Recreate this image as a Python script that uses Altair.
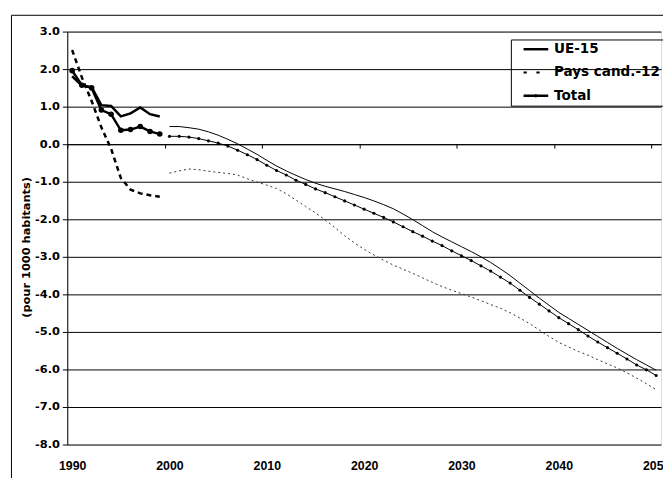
import altair as alt
import pandas as pd

# ---------------- data ----------------
series_names = ["UE-15", "Pays cand.-12", "Total"]

years_hist = list(range(1990, 2000))
ue15_hist = [1.81, 1.56, 1.52, 1.04, 1.02, 0.74, 0.82, 0.98, 0.80, 0.74]
pays_hist = [2.51, 1.78, 1.15, 0.45, -0.12, -0.90, -1.21, -1.31, -1.36, -1.40]
total_hist = [1.96, 1.57, 1.50, 0.91, 0.80, 0.37, 0.39, 0.47, 0.34, 0.27]

years_proj = list(range(2000, 2051))
ue15_proj = [0.47, 0.47, 0.44, 0.40, 0.33, 0.24, 0.13, 0.01, -0.13, -0.27,
             -0.43, -0.58, -0.71, -0.83, -0.94, -1.04, -1.12, -1.19, -1.26, -1.34,
             -1.42, -1.51, -1.61, -1.72, -1.86, -2.01, -2.17, -2.33, -2.47, -2.60,
             -2.73, -2.86, -3.00, -3.15, -3.32, -3.50, -3.70, -3.90, -4.10, -4.29,
             -4.48, -4.64, -4.80, -4.96, -5.12, -5.28, -5.44, -5.59, -5.74, -5.88,
             -6.02]
pays_proj = [-0.77, -0.71, -0.66, -0.68, -0.72, -0.75, -0.78, -0.82, -0.92, -1.01,
             -1.09, -1.18, -1.32, -1.49, -1.66, -1.83, -2.02, -2.22, -2.44, -2.63,
             -2.80, -2.95, -3.09, -3.22, -3.33, -3.44, -3.56, -3.68, -3.79, -3.89,
             -3.98, -4.07, -4.17, -4.27, -4.37, -4.49, -4.63, -4.78, -4.95, -5.12,
             -5.28, -5.40, -5.52, -5.62, -5.74, -5.85, -5.96, -6.09, -6.23, -6.38,
             -6.54]
total_proj = [0.21, 0.21, 0.19, 0.15, 0.09, 0.03, -0.05, -0.16, -0.28, -0.41,
              -0.56, -0.70, -0.82, -0.96, -1.07, -1.19, -1.29, -1.40, -1.51, -1.62,
              -1.73, -1.84, -1.95, -2.07, -2.20, -2.33, -2.45, -2.58, -2.70, -2.84,
              -2.97, -3.10, -3.24, -3.38, -3.54, -3.70, -3.89, -4.08, -4.26, -4.44,
              -4.62, -4.78, -4.94, -5.11, -5.27, -5.42, -5.57, -5.72, -5.88, -6.01,
              -6.16]

label_years = [1990, 2000, 2010, 2020, 2030, 2040, 2050]
y_ticks = [-8, -7, -6, -5, -4, -3, -2, -1, 0, 1, 2, 3]

# legend symbols: line samples drawn as filled SVG paths
legend_paths = [
    "M0.6,-0.25L5.6,-0.25L5.6,0.25L0.6,0.25Z",
    "M0.6,-0.2L1.25,-0.2L1.25,0.2L0.6,0.2Z"
    "M3.2,-0.2L3.86,-0.2L3.86,0.2L3.2,0.2Z",
    "M0.6,-0.25L5.6,-0.25L5.6,0.25L0.6,0.25Z"
    "M2.75,0A0.35,0.35 0 1 1 3.45,0A0.35,0.35 0 1 1 2.75,0Z",
]

# ---------------- helpers ----------------
FONT_A = "Liberation Sans"
FONT_B = "DejaVu Sans"
X_DOMAIN = [1989.5, 2050.5]
Y_DOMAIN = [-8, 3]
zero_ticks = [1989.5 + 10 * k for k in range(7)]


def frame(years, values):
    return pd.DataFrame({"year": years, "value": values})


y_axis = alt.Axis(
    values=y_ticks,
    labelExpr="(datum.value < 0 ? '-' : '') + format(abs(datum.value), '.1f')",
    labelFont=FONT_B, labelFontSize=11.5, labelFontWeight="bold", labelColor="black",
    labelPadding=3, tickSize=5, tickColor="black", domainColor="black",
    grid=True, gridColor="black", gridOpacity=1, gridWidth=1,
    title="(pour 1000 habitants)", titleFont=FONT_B, titleFontSize=11.5,
    titleFontWeight="bold", titleColor="black", titleX=-36, titleY=218,
)

label_axis = alt.Axis(
    orient="bottom", values=label_years, format="d",
    labelFont=FONT_A, labelFontSize=12.5, labelFontWeight="bold", labelColor="black",
    ticks=False, domain=False, grid=False, labelPadding=15,
    labelOverlap=False, labelFlush=False, title=None,
)

zero_axis = alt.Axis(
    orient="bottom", offset=-304, values=zero_ticks, labels=False,
    ticks=True, tickSize=4, tickColor="black", domain=True, domainColor="black",
    grid=False, title=None,
)


def X(axis=None):
    return alt.X("year:Q", scale=alt.Scale(domain=X_DOMAIN, nice=False, zero=False), axis=axis)


def Y():
    return alt.Y("value:Q", scale=alt.Scale(domain=Y_DOMAIN, nice=False, zero=False), axis=y_axis)


# ---------------- layers ----------------
border = alt.Chart(pd.DataFrame({"a": [0]})).mark_rect(
    fill="transparent", stroke="black", strokeWidth=1
).encode(
    x=alt.value(-56.5), x2=alt.value(720), y=alt.value(-16.5), y2=alt.value(520)
)

ue_h = alt.Chart(frame(years_hist, ue15_hist)).mark_line(
    color="black", strokeWidth=2.5
).encode(x=X(label_axis), y=Y())

ue_p = alt.Chart(frame(years_proj, ue15_proj)).mark_line(
    color="black", strokeWidth=1
).encode(x=X(zero_axis), y=Y())

pays_h = alt.Chart(frame(years_hist, pays_hist)).mark_line(
    color="black", strokeWidth=2.5, strokeDash=[5, 4]
).encode(x=X(), y=Y())

pays_p = alt.Chart(frame(years_proj, pays_proj)).mark_line(
    color="#333333", strokeWidth=1, strokeDash=[2, 3]
).encode(x=X(), y=Y())

tot_h_line = alt.Chart(frame(years_hist, total_hist)).mark_line(
    color="black", strokeWidth=2.5
).encode(x=X(), y=Y())

tot_h_pts = alt.Chart(frame(years_hist, total_hist)).mark_point(
    filled=True, color="black", size=32, opacity=1
).encode(x=X(), y=Y())

tot_p_line = alt.Chart(frame(years_proj, total_proj)).mark_line(
    color="black", strokeWidth=1
).encode(x=X(), y=Y())

tot_p_pts = alt.Chart(frame(years_proj, total_proj)).mark_point(
    filled=True, color="black", size=10, opacity=1
).encode(x=X(), y=Y())

legend_layer = alt.Chart(pd.DataFrame({"serie": series_names})).transform_filter(
    "false"
).mark_point(
    filled=True, color="black", opacity=1
).encode(
    shape=alt.Shape(
        "serie:N",
        scale=alt.Scale(domain=series_names, range=legend_paths),
        sort=None,
        legend=alt.Legend(
            title=None, orient="none", legendX=449, legendY=8,
            strokeColor="black", padding=3, cornerRadius=0,
            symbolSize=100, symbolStrokeWidth=0,
            symbolFillColor="black", symbolOpacity=1,
            labelFont=FONT_B, labelFontSize=13.7, labelFontWeight="bold",
            labelColor="black", labelOffset=27, rowPadding=8.5,
        ),
    )
)

chart = alt.layer(
    border, ue_h, ue_p, pays_h, pays_p, tot_h_line, tot_h_pts,
    tot_p_line, tot_p_pts, legend_layer,
).resolve_axis(x="independent").properties(
    width=601, height=418,
    autosize=alt.AutoSizeParams(type="none"),
    padding={"left": 60, "top": 21, "right": 2, "bottom": 31},
).configure_view(stroke="#808080", strokeWidth=1).configure(background="white")

chart.save("out.html", embed_options={"renderer": "svg", "actions": False})
